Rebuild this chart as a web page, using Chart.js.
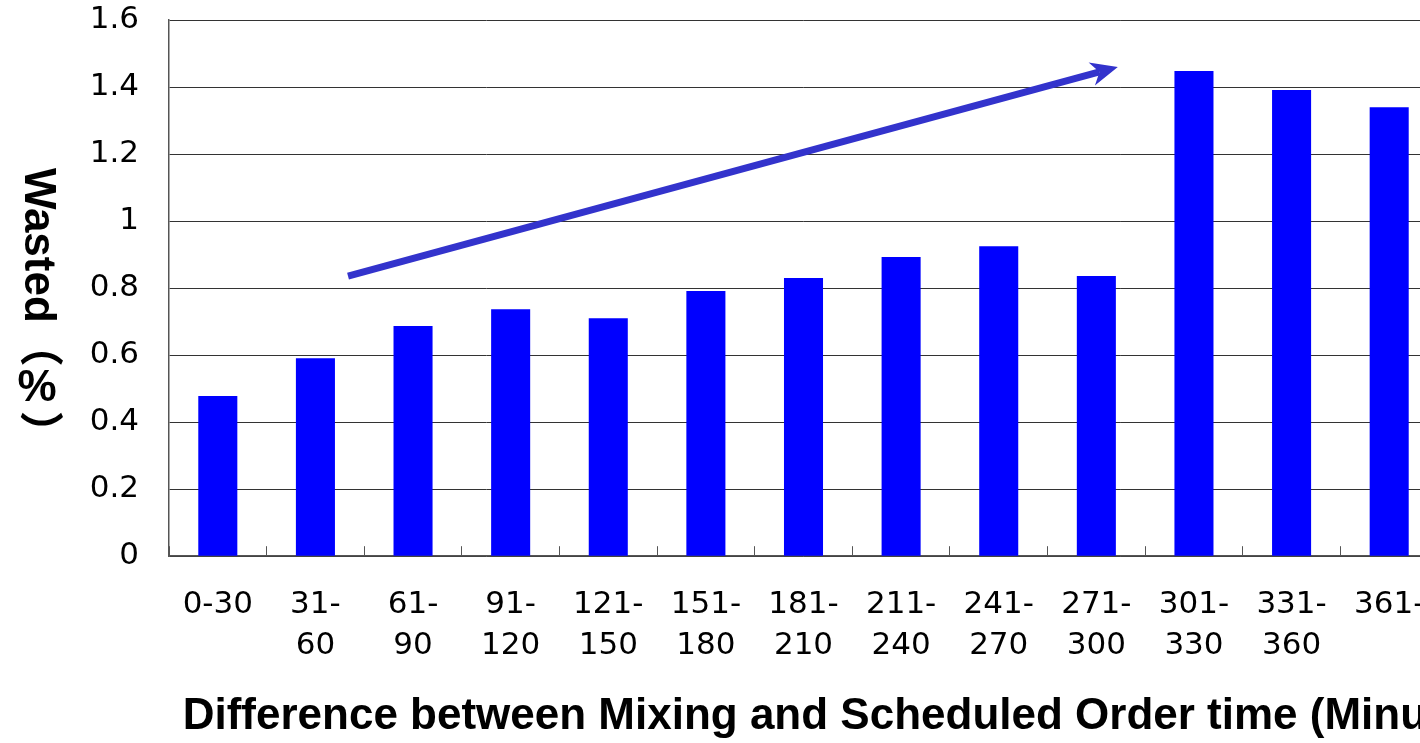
<!DOCTYPE html>
<html>
<head>
<meta charset="utf-8">
<script src="https://cdn.jsdelivr.net/npm/chart.js@4"></script>
<style>
    body { margin: 0; overflow: hidden; background: #fff; }
    #wrap { position: absolute; left: 0; top: 0; width: 1688px; height: 743px; }
</style>
</head>
<body>
<div id="wrap"><canvas id="grafico"></canvas></div>
<script>
// categories (minutes between mixing and scheduled order)
const categorias = [
    '0-30', ['31-', '60'], ['61-', '90'], ['91-', '120'], ['121-', '150'],
    ['151-', '180'], ['181-', '210'], ['211-', '240'], ['241-', '270'],
    ['271-', '300'], ['301-', '330'], ['331-', '360'], '361-'
];
// wasted (%)
const desperdicio = [0.478, 0.591, 0.687, 0.737, 0.710, 0.791, 0.830, 0.893, 0.925, 0.836, 1.448, 1.391, 1.340];

// trend arrow, in data units (category index, value)
const setaInicio = [1.334, 0.836];
const setaFim = [9.22, 1.46];

// y title written vertically: rotated pieces and the upright %
const tituloY = [['Wasted', true], ['（', true], ['%', false], ['）', true]];
const tituloX = 'Difference between Mixing and Scheduled Order time (Minutes)';

const corBarra = '#0000ff';
const corSeta = '#3333cc';

const seta = {
    id: 'seta',
    afterDatasetsDraw(chart) {
        const { ctx, scales: { x, y } } = chart;
        const x0 = x.getPixelForValue(setaInicio[0]), y0 = y.getPixelForValue(setaInicio[1]);
        const x1 = x.getPixelForValue(setaFim[0]), y1 = y.getPixelForValue(setaFim[1]);
        const len = Math.hypot(x1 - x0, y1 - y0);
        const ux = (x1 - x0) / len, uy = (y1 - y0) / len;
        const nx = -uy, ny = ux;
        const L = 27, W = 12, N = 19;
        ctx.save();
        ctx.strokeStyle = corSeta;
        ctx.fillStyle = corSeta;
        ctx.lineWidth = 7;
        ctx.beginPath();
        ctx.moveTo(x0, y0);
        ctx.lineTo(x1 - ux * N, y1 - uy * N);
        ctx.stroke();
        ctx.beginPath();
        ctx.moveTo(x1, y1);
        ctx.lineTo(x1 - ux * L + nx * W, y1 - uy * L + ny * W);
        ctx.lineTo(x1 - ux * N, y1 - uy * N);
        ctx.lineTo(x1 - ux * L - nx * W, y1 - uy * L - ny * W);
        ctx.closePath();
        ctx.fill();
        ctx.restore();
    }
};

const tituloVertical = {
    id: 'tituloVertical',
    afterDraw(chart) {
        const { ctx, chartArea, scales: { y } } = chart;
        const cx = y.left + 37;
        let pos = chartArea.top + 148;
        ctx.save();
        ctx.font = "bold 44px 'Liberation Sans', 'Noto Sans CJK JP', sans-serif";
        ctx.fillStyle = '#000';
        ctx.textBaseline = 'middle';
        tituloY.forEach(([txt, girado]) => {
            if (girado) {
                ctx.save();
                ctx.translate(cx, pos);
                ctx.rotate(Math.PI / 2);
                ctx.textAlign = 'left';
                ctx.fillText(txt, 0, 0);
                pos += ctx.measureText(txt).width;
                ctx.restore();
            } else {
                ctx.textAlign = 'center';
                ctx.fillText(txt, cx, pos + 22);
                pos += 44;
            }
        });
        ctx.restore();
    }
};

const ctx = document.getElementById('grafico').getContext('2d');
const grafico = new Chart(ctx, {
    type: 'bar',
    data: {
        labels: categorias,
        datasets: [{
            data: desperdicio,
            backgroundColor: corBarra,
            barPercentage: 0.40,
            categoryPercentage: 1.0,
        }]
    },
    plugins: [seta, tituloVertical],
    options: {
        responsive: true,
        maintainAspectRatio: false,
        animation: false,
        layout: {
            padding: { top: 20, right: 0, left: 0, bottom: 0 }
        },
        plugins: {
            legend: { display: false },
            tooltip: { enabled: false },
            title: {
                display: true,
                position: 'bottom',
                text: tituloX,
                color: '#000',
                font: { family: "'Liberation Sans', Arial, sans-serif", size: 44, weight: 'bold', lineHeight: 1.2 },
                padding: { top: 0, bottom: 0 },
            },
        },
        scales: {
            x: {
                afterFit: (s) => { s.height = 134; },
                grid: {
                    display: true,
                    offset: true,
                    drawOnChartArea: false,
                    drawTicks: true,
                    tickLength: -10,
                    color: '#555',
                },
                border: { color: '#555', width: 1.5 },
                ticks: {
                    color: '#000',
                    font: { family: "'DejaVu Sans', sans-serif", size: 31, lineHeight: 1.3 },
                    padding: 39,
                    maxRotation: 0,
                    autoSkip: false,
                },
            },
            y: {
                min: 0,
                max: 1.6,
                afterFit: (s) => { s.width = 169; },
                grid: { color: '#333', drawTicks: true, tickLength: 30, tickColor: 'rgba(0,0,0,0)' },
                border: { color: '#555', width: 1.5 },
                ticks: {
                    stepSize: 0.2,
                    color: '#000',
                    font: { family: "'DejaVu Sans', sans-serif", size: 31 },
                    padding: 0,
                    callback: (v) => String(Number(v.toFixed(1))),
                },
            },
            // empty space on the right, past the visible window
            margem: {
                position: 'right',
                display: true,
                afterFit: (s) => { s.width = 250; },
                grid: { display: false },
                border: { display: false },
                ticks: { display: false },
            },
        },
    },
});
</script>
</body>
</html>
